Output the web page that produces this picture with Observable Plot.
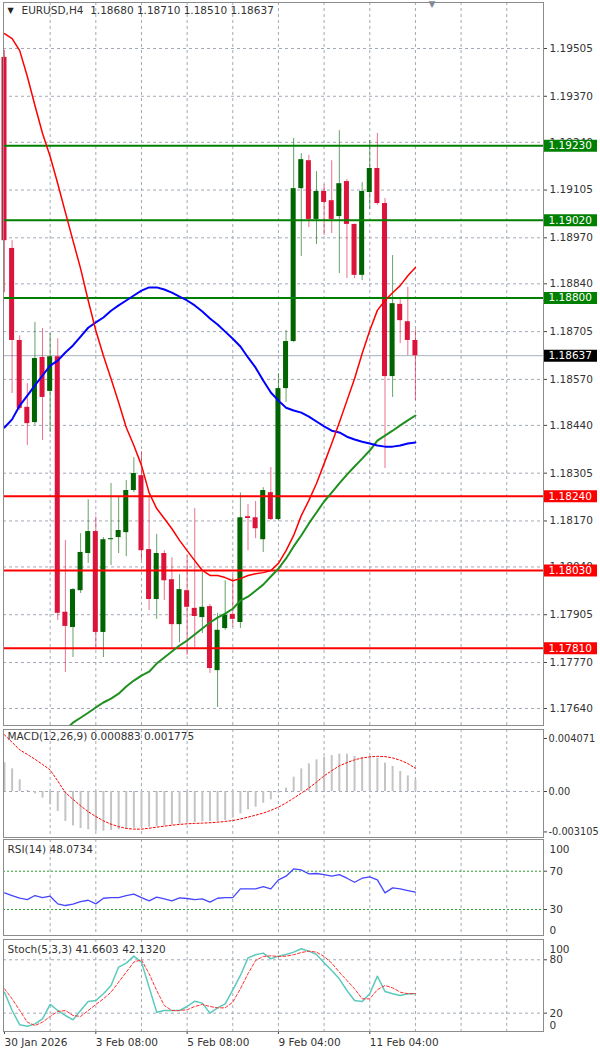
<!DOCTYPE html>
<html><head><meta charset="utf-8">
<script src="https://cdn.jsdelivr.net/npm/d3@7"></script>
<script src="https://cdn.jsdelivr.net/npm/@observablehq/plot@0.6"></script>
<style>
body{margin:0;background:#fff;}
#wrap{position:relative;width:600px;height:1051px;overflow:hidden;background:#fff;}
#wrap svg{position:absolute;left:0;}
</style></head><body><div id="wrap"></div>
<script>
// ---- data ----
const openP = [
1.19480,1.18940,1.18680,1.18491,1.18448,1.18632,1.18536,1.18634,1.17912,1.17869,1.17973,
1.18078,1.18140,1.17855,1.18117,1.18123,1.18137,1.18256,1.18298,1.18089,1.17948,1.18078,
1.18004,1.17877,1.17973,1.17923,1.17897,1.17928,1.17747,1.17866,1.17906,1.17883,1.18182,
1.18179,1.18117,1.18250,1.18174,1.18544,1.18677,1.19109,1.19188,1.19022,1.19101,1.19075,
1.19030,1.19129,1.19008,1.18864,1.19098,1.19166,1.19067,1.18578,1.18782,1.18733,1.18680];
const highP = [
1.19500,1.18962,1.18693,1.18558,1.18731,1.18714,1.18700,1.18685,1.18115,1.17979,1.18134,
1.18230,1.18182,1.18123,1.18276,1.18239,1.18284,1.18349,1.18366,1.18239,1.18132,1.18086,
1.18066,1.18018,1.18072,1.18205,1.18024,1.17934,1.17909,1.18001,1.18016,1.18249,1.18216,
1.18225,1.18264,1.18321,1.18586,1.18708,1.19251,1.19208,1.19203,1.19157,1.19120,1.19188,
1.19273,1.19135,1.19008,1.19126,1.19245,1.19265,1.19081,1.18920,1.18795,1.18830,1.18710];
const lowP = [
1.18815,1.18530,1.18482,1.18383,1.18440,1.18397,1.18420,1.17889,1.17742,1.17784,1.17965,
1.18050,1.17812,1.17784,1.18044,1.18078,1.18069,1.18250,1.18058,1.17917,1.17892,1.17945,
1.17812,1.17826,1.17790,1.17812,1.17852,1.17739,1.17643,1.17861,1.17869,1.17866,1.18086,
1.18120,1.18081,1.18171,1.18171,1.18505,1.18674,1.18917,1.18999,1.18951,1.18977,1.18982,
1.18869,1.18855,1.18855,1.18849,1.19050,1.19062,1.18318,1.18519,1.18671,1.18637,1.18510];
const closeP = [
1.18962,1.18680,1.18488,1.18445,1.18629,1.18519,1.18634,1.17909,1.17872,1.17976,1.18081,
1.18140,1.17855,1.18117,1.18120,1.18143,1.18256,1.18304,1.18086,1.17948,1.18078,1.18001,
1.17877,1.17976,1.17926,1.17900,1.17926,1.17753,1.17861,1.17903,1.17892,1.18179,1.18177,
1.18148,1.18256,1.18174,1.18544,1.18677,1.19109,1.19191,1.19022,1.19101,1.19070,1.19022,
1.19123,1.19008,1.18864,1.19101,1.19166,1.19067,1.18578,1.18784,1.18736,1.18680,1.18637];
const maRed = [
1.19547,1.19533,1.19499,1.19426,1.19344,1.19265,1.19200,1.19123,1.19042,1.18962,1.18883,
1.18793,1.18708,1.18637,1.18572,1.18505,1.18434,1.18383,1.18327,1.18250,1.18205,1.18177,
1.18148,1.18115,1.18086,1.18058,1.18030,1.18016,1.18016,1.18010,1.18001,1.18007,1.18016,
1.18021,1.18024,1.18030,1.18050,1.18086,1.18129,1.18185,1.18228,1.18276,1.18332,1.18389,
1.18448,1.18510,1.18572,1.18643,1.18708,1.18765,1.18793,1.18815,1.18835,1.18863,1.18886];
const maBlue = [
1.18434,1.18457,1.18496,1.18524,1.18553,1.18581,1.18609,1.18623,1.18646,1.18666,1.18691,
1.18716,1.18731,1.18745,1.18764,1.18779,1.18793,1.18807,1.18821,1.18830,1.18830,1.18824,
1.18815,1.18804,1.18793,1.18779,1.18762,1.18742,1.18725,1.18705,1.18685,1.18663,1.18632,
1.18603,1.18567,1.18533,1.18510,1.18490,1.18482,1.18476,1.18465,1.18451,1.18437,1.18425,
1.18420,1.18408,1.18400,1.18394,1.18389,1.18383,1.18380,1.18380,1.18383,1.18389,1.18392];
const maGreen = [
null,null,null,null,null,null,null,null,1.17580,1.17600,1.17614,
1.17628,1.17643,1.17657,1.17668,1.17682,1.17702,1.17719,1.17733,1.17744,1.17767,1.17784,
1.17801,1.17818,1.17832,1.17849,1.17866,1.17883,1.17897,1.17908,1.17922,1.17945,1.17956,
1.17973,1.17990,1.18013,1.18035,1.18064,1.18098,1.18129,1.18163,1.18194,1.18225,1.18250,
1.18276,1.18301,1.18324,1.18346,1.18369,1.18397,1.18411,1.18425,1.18440,1.18454,1.18468];
const macdMain = [
0.00220,0.00174,0.00090,0.00008,-0.00018,-0.00051,-0.00102,-0.00154,-0.00230,-0.00264,-0.00284,
-0.00294,-0.00305,-0.00305,-0.00300,-0.00294,-0.00289,-0.00282,-0.00279,-0.00274,-0.00269,-0.00264,
-0.00259,-0.00251,-0.00243,-0.00238,-0.00233,-0.00230,-0.00233,-0.00223,-0.00205,-0.00172,-0.00141,
-0.00120,-0.00090,-0.00064,-0.00013,0.00026,0.00110,0.00174,0.00212,0.00243,0.00264,0.00276,
0.00287,0.00287,0.00269,0.00259,0.00264,0.00256,0.00218,0.00192,0.00154,0.00120,0.00088];
const macdSignal = [
0.00435,0.00378,0.00320,0.00285,0.00248,0.00208,0.00166,0.00080,-0.00008,-0.00060,-0.00110,
-0.00155,-0.00192,-0.00225,-0.00251,-0.00270,-0.00284,-0.00289,-0.00289,-0.00282,-0.00274,-0.00266,
-0.00259,-0.00253,-0.00248,-0.00245,-0.00243,-0.00240,-0.00236,-0.00230,-0.00223,-0.00211,-0.00197,
-0.00182,-0.00166,-0.00145,-0.00120,-0.00088,-0.00051,-0.00013,0.00026,0.00072,0.00120,0.00160,
0.00197,0.00222,0.00243,0.00258,0.00266,0.00270,0.00268,0.00258,0.00240,0.00215,0.00178];
const rsi = [
47.4,44.6,41.8,40.4,44.6,42.5,43.9,35.9,34.2,35.6,38.3,
39.7,35.9,41.8,42.5,42.5,44.6,46.0,42.5,39.0,42.9,41.1,
39.0,42.2,41.5,40.4,41.1,37.7,41.8,42.5,42.5,51.6,51.6,
51.6,54.0,51.6,61.0,64.8,72.4,71.3,67.2,67.6,66.5,64.8,
66.5,62.7,58.5,62.7,64.1,61.0,47.4,52.6,51.6,49.8,48.1];
const stochMain = [
43.6,23.0,6.9,5.4,8.0,13.6,29.8,23.0,17.4,12.5,23.0,
33.1,34.3,41.8,51.1,71.8,76.3,84.1,77.4,49.3,21.1,23.0,
23.0,23.0,27.5,33.5,31.3,20.0,26.0,30.5,46.3,62.4,82.2,
85.6,87.5,81.1,84.1,86.0,88.6,92.4,89.7,86.0,76.6,68.0,
58.6,45.5,34.3,33.1,41.8,61.6,44.4,41.8,39.9,41.8,41.7];
const stochSignal = [
47.4,36.1,23.0,9.9,6.1,9.9,16.3,21.9,23.0,17.4,16.3,
23.0,29.8,36.1,43.6,54.9,66.1,77.4,80.0,64.3,45.5,28.6,
23.0,23.0,23.8,27.5,29.8,27.5,26.0,26.0,32.4,47.4,64.3,
79.3,83.7,84.5,83.7,84.1,85.6,88.2,89.7,88.6,83.7,76.3,
66.1,56.8,47.4,36.1,36.1,46.3,51.1,48.5,43.6,41.8,42.1];

const priceTicks = [1.19505,1.19370,1.19240,1.19105,1.18970,1.18840,1.18705,1.18570,1.18440,1.18305,1.18170,1.18040,1.17905,1.17770,1.17640];
const levelsGreen = [1.19230,1.19020,1.18800];
const levelsRed = [1.18240,1.18030,1.17810];
const lastPrice = 1.18637;
const dateTicks = [0,12,24,36,48];
const dateLabels = ["30 Jan 2026","3 Feb 08:00","5 Feb 08:00","9 Feb 04:00","11 Feb 04:00"];
const gridBars = [6,12,18,24,30,36,42,48,54,60,66];
const macdTicks = [0.004071,0,-0.003105];
const macdTickLabels = ["0.004071","0.00","-0.003105"];

// ---- layout ----
const FONT = "'DejaVu Sans', sans-serif";
const xDom = [-0.131, 70.83];
const bull = "#006400", bear = "#dc143c";
const gridC = "#a2aab6";
const frameC = "#8c8c8c";
const wrap = document.getElementById("wrap");
function base(h, mt, mb, ydom) {
  return {width: 600, height: h, marginLeft: 3, marginRight: 57, marginTop: mt, marginBottom: mb,
    x: {domain: xDom, axis: null}, y: {domain: ydom, axis: null}, color: {type: "identity"},
    style: {fontFamily: FONT, fontSize: "10.5px", color: "#333", background: "transparent"}};
}
function place(svg, top) { svg.style.top = top + "px"; wrap.appendChild(svg); }
const gridV = () => Plot.gridX(gridBars, {stroke: gridC, strokeOpacity: 1, strokeDasharray: "3,3"});
const idx = (d, i) => i;
const candles = openP.map((o, i) => ({i, o, h: highP[i], l: lowP[i], c: closeP[i], col: closeP[i] >= o ? bull : bear}));

// main price panel
const main = Plot.plot({
  ...base(727, 2, 2, [1.17592, 1.19635]),
  marks: [
    gridV(),
    Plot.gridY(priceTicks, {stroke: gridC, strokeOpacity: 1, strokeDasharray: "3,3"}),
    Plot.ruleY([lastPrice], {stroke: "#a9b1bc", strokeWidth: 1}),
    Plot.ruleX(candles, {x: "i", y1: "l", y2: "h", stroke: "col", strokeOpacity: 0.6}),
    Plot.rect(candles, {x1: d => d.i - 0.33, x2: d => d.i + 0.33, y1: "o", y2: "c", fill: "col"}),
    Plot.ruleY(levelsGreen, {stroke: "#008000", strokeWidth: 2}),
    Plot.ruleY(levelsRed, {stroke: "#ff0000", strokeWidth: 2}),
    Plot.line(maGreen, {x: idx, y: d => d, stroke: "#1f8f1f", strokeWidth: 2, clip: true}),
    Plot.line(maBlue, {x: idx, y: d => d, stroke: "#0000ff", strokeWidth: 2}),
    Plot.line(maRed, {x: idx, y: d => d, stroke: "#ff0000", strokeWidth: 1.5}),
    Plot.axisY(priceTicks, {anchor: "right", tickSize: 3, tickPadding: 3, tickFormat: d => d.toFixed(5), stroke: "#444"}),
    Plot.text(["\u25BC"], {frameAnchor: "top-left", dx: 4, dy: 5, fontSize: 8, fill: "#222", textAnchor: "start", lineAnchor: "top"}),
    Plot.text(["EURUSD,H4\u00A0\u00A01.18680\u00A01.18710\u00A01.18510\u00A01.18637"], {frameAnchor: "top-left", dx: 18, dy: 4, textAnchor: "start", lineAnchor: "top", fill: "#333"}),
    Plot.text(["\u25BC"], {frameAnchor: "top-left", dx: 425, dy: -2, fontSize: 9, fill: "#7d8896", textAnchor: "start", lineAnchor: "top"}),
    Plot.frame({stroke: frameC})
  ]
});
place(main, 0);

// level label boxes on the price scale
const boxes = Plot.plot({
  width: 600, height: 727, marginLeft: 544, marginRight: 3, marginTop: 2, marginBottom: 2,
  y: {domain: [1.17592, 1.19635], axis: null},
  style: {fontFamily: FONT, fontSize: "10.5px", background: "transparent"},
  marks: [
    Plot.ruleY(levelsGreen, {stroke: "#008000", strokeWidth: 12}),
    Plot.ruleY(levelsRed, {stroke: "#ff0000", strokeWidth: 12}),
    Plot.ruleY([lastPrice], {stroke: "#000000", strokeWidth: 12}),
    Plot.text([...levelsGreen, ...levelsRed, lastPrice], {y: d => d, text: d => d.toFixed(5), frameAnchor: "left", dx: 4, textAnchor: "start", fill: "#ffffff"})
  ]
});
place(boxes, 0);

// MACD panel
const macd = Plot.plot({
  ...base(111, 2, 1, [-0.003533, 0.004762]),
  marks: [
    gridV(),
    Plot.ruleY([0], {stroke: gridC, strokeDasharray: "3,3"}),
    Plot.ruleX(macdMain, {x: idx, y1: 0, y2: d => d, stroke: "#c4c4c4", strokeWidth: 2}),
    Plot.line(macdSignal, {x: idx, y: d => d, stroke: "#ff0000", strokeWidth: 1, strokeDasharray: "2,2"}),
    Plot.axisY(macdTicks, {anchor: "right", tickSize: 3, tickPadding: 2, fontSize: 9.8, tickFormat: d => macdTickLabels[macdTicks.indexOf(d)], stroke: "#444"}),
    Plot.text(["MACD(12,26,9) 0.000883 0.001775"], {frameAnchor: "top-left", dx: 4, dy: 3, textAnchor: "start", lineAnchor: "top", fill: "#333"}),
    Plot.frame({stroke: frameC})
  ]
});
place(macd, 727);

// RSI panel
const rsiPlot = Plot.plot({
  ...base(100, 2, 2, [2.9, 103.1]),
  marks: [
    gridV(),
    Plot.ruleY([70, 30], {stroke: "#2ea02e", strokeDasharray: "2,2"}),
    Plot.line(rsi, {x: idx, y: d => d, stroke: "#4646ff", strokeWidth: 1.3}),
    Plot.axisY([70, 30], {anchor: "right", tickSize: 3, tickPadding: 3, stroke: "#444"}),
    Plot.text(["100"], {frameAnchor: "top-right", dx: 6, dy: 10, textAnchor: "start", lineAnchor: "middle", fill: "#333"}),
    Plot.text(["0"], {frameAnchor: "bottom-right", dx: 6, dy: -5, textAnchor: "start", lineAnchor: "middle", fill: "#333"}),
    Plot.text(["RSI(14) 48.0734"], {frameAnchor: "top-left", dx: 4, dy: 6, textAnchor: "start", lineAnchor: "top", fill: "#333"}),
    Plot.frame({stroke: frameC})
  ]
});
place(rsiPlot, 837);

// Stochastic panel with date axis
const stoch = Plot.plot({
  ...base(114, 2, 20, [-0.6, 102.8]),
  marks: [
    gridV(),
    Plot.gridY([80, 20], {stroke: gridC, strokeOpacity: 1, strokeDasharray: "3,3"}),
    Plot.line(stochMain, {x: idx, y: d => d, stroke: "#5cc9bd", strokeWidth: 1.5}),
    Plot.line(stochSignal, {x: idx, y: d => d, stroke: "#ff3030", strokeWidth: 1, strokeDasharray: "3,2"}),
    Plot.axisY([80, 20], {anchor: "right", tickSize: 3, tickPadding: 3, stroke: "#444"}),
    Plot.text(["100"], {frameAnchor: "top-right", dx: 6, dy: 10, textAnchor: "start", lineAnchor: "middle", fill: "#333"}),
    Plot.text(["0"], {frameAnchor: "bottom-right", dx: 6, dy: -6, textAnchor: "start", lineAnchor: "middle", fill: "#333"}),
    Plot.text(["Stoch(5,3,3) 41.6603 42.1320"], {frameAnchor: "top-left", dx: 4, dy: 6, textAnchor: "start", lineAnchor: "top", fill: "#333"}),
    Plot.axisX(dateTicks, {anchor: "bottom", tickSize: 3, tickPadding: 4, textAnchor: "start", tickFormat: d => dateLabels[dateTicks.indexOf(d)], stroke: "#444"}),
    Plot.frame({stroke: frameC})
  ]
});
place(stoch, 937);
</script></body></html>
